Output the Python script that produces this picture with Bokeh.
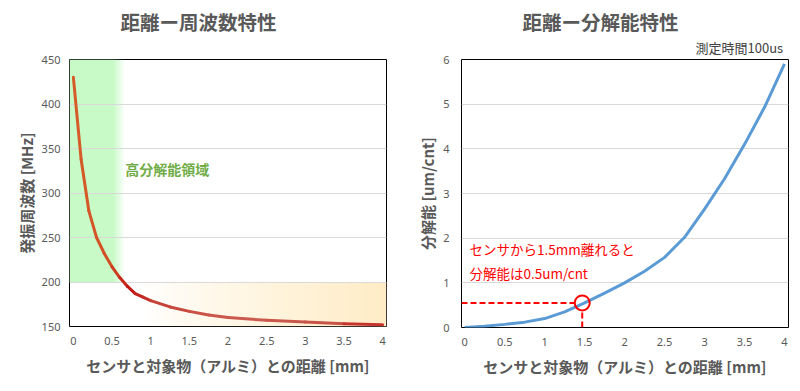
import numpy as np
from bokeh.plotting import figure
from bokeh.layouts import row
from bokeh.models import Range1d, FixedTicker, CustomJSTickFormatter, Label, Title
from bokeh.embed import file_html
from bokeh.resources import INLINE

# ---------------- data ----------------
# left: distance vs oscillation frequency
dist_f = [0, 0.1, 0.2, 0.3, 0.4, 0.5, 0.6, 0.7, 0.8, 0.9, 1.0, 1.25, 1.5, 1.75, 2.0, 2.5, 3.0, 3.5, 4.0]
freq_mhz = [430, 338, 280, 250, 232, 217, 205, 195, 187, 183, 179, 172, 167, 163, 160, 157, 155, 153, 152]

# right: distance vs resolution
dist_r = [0, 0.25, 0.5, 0.75, 1.0, 1.25, 1.5, 1.75, 2.0, 2.25, 2.5, 2.75, 3.0, 3.25, 3.5, 3.75, 4.0]
res_um = [0.0, 0.03, 0.07, 0.12, 0.2, 0.35, 0.55, 0.77, 1.0, 1.26, 1.57, 2.02, 2.65, 3.33, 4.1, 4.93, 5.9]

x_ticks = [0, 0.5, 1, 1.5, 2, 2.5, 3, 3.5, 4]
freq_ticks = [150, 200, 250, 300, 350, 400, 450]
res_ticks = [0, 1, 2, 3, 4, 5, 6]

# highlighted point on the resolution curve
marker_x = [1.47]
marker_y = [0.55]

JP = "Noto Sans CJK JP"
GRAY = "#595959"
XLABEL = "センサと対象物（アルミ）との距離 [mm]"

# ---------------- helpers ----------------
def make_fig(x0, x1, y0, y1, fw, fh, bl, br, bt, bb, yticks, ylabel, ytick_standoff, ylabel_standoff):
    p = figure(frame_width=fw, frame_height=fh, x_range=Range1d(x0, x1), y_range=Range1d(y0, y1),
               output_backend="svg", toolbar_location=None, title=None,
               min_border_left=bl, min_border_right=br, min_border_top=bt, min_border_bottom=bb)
    p.background_fill_color = "white"
    p.border_fill_color = "white"
    p.outline_line_color = "black"
    p.outline_line_width = 1
    p.xgrid.visible = False
    p.ygrid.grid_line_color = "#D9D9D9"
    p.ygrid.grid_line_width = 1
    p.xaxis.ticker = FixedTicker(ticks=x_ticks)
    p.yaxis.ticker = FixedTicker(ticks=yticks)
    p.xaxis.formatter = CustomJSTickFormatter(code="return String(tick)")
    p.yaxis.formatter = CustomJSTickFormatter(code="return String(tick)")
    for ax in (p.xaxis, p.yaxis):
        ax.axis_line_color = None
        ax.major_tick_line_color = None
        ax.minor_tick_line_color = None
        ax.major_label_text_font = "Noto Sans"
        ax.major_label_text_font_size = "11px"
        ax.major_label_text_color = GRAY
        ax.axis_label_text_font = JP
        ax.axis_label_text_font_size = "15px"
        ax.axis_label_text_font_style = "bold"
        ax.axis_label_text_color = GRAY
    p.xaxis.major_label_standoff = 4
    p.xaxis.axis_label_standoff = 7
    p.yaxis.major_label_standoff = ytick_standoff
    p.yaxis.axis_label_standoff = ylabel_standoff
    p.xaxis.axis_label = XLABEL
    p.yaxis.axis_label = ylabel
    return p


def add_titles(p, main, main_offset, sub, sub_offset):
    # subtitle (or blank spacer) sits closest to the frame, main title above it
    p.add_layout(Title(text=sub, text_font=JP, text_font_size="13px", text_color="#404040",
                       text_font_style="normal", align="left", offset=sub_offset,
                       vertical_align="middle", standoff=3), "above")
    p.add_layout(Title(text=main, text_font=JP, text_font_size="19.5px", text_color=GRAY,
                       text_font_style="bold", align="left", offset=main_offset, standoff=0), "above")


def rgba_strip(xs, alpha, rgb):
    nx = len(xs)
    img = np.zeros((1, nx), dtype=np.uint32)
    v = img.view(dtype=np.uint8).reshape((1, nx, 4))
    v[..., 0] = rgb[0]
    v[..., 1] = rgb[1]
    v[..., 2] = rgb[2]
    v[..., 3] = (np.clip(alpha, 0, 1) * 255).astype(np.uint8)
    return img


def lerp_color(x, stops):
    xs = [s[0] for s in stops]
    out = [int(round(np.interp(x, xs, [s[1][c] for s in stops]))) for c in range(3)]
    return "#%02x%02x%02x" % tuple(out)

# ---------------- left chart ----------------
XL0, XL1 = -0.05, 4.05
p1 = make_fig(XL0, XL1, 150, 450, 317, 267, 69, 14, 59, 60, freq_ticks, "発振周波数 [MHz]", 3, 2)
add_titles(p1, "距離ー周波数特性", 51, " ", 0)

# green high-resolution zone (gradient)
gx = np.linspace(XL0, 0.70, 240)
p1.image_rgba(image=[rgba_strip(gx, (0.66 - gx) / 0.15, (200, 250, 200))],
              x=XL0, y=200, dw=0.70 - XL0, dh=250, level="image")
# pale cream zone (gradient)
ox = np.linspace(0.5, XL1, 400)
oa = np.clip((ox - 0.9) / (XL1 - 0.9), 0, 1) ** 0.8
p1.image_rgba(image=[rgba_strip(ox, oa, (255, 236, 198))],
              x=0.5, y=150, dw=XL1 - 0.5, dh=50, level="image")

stops = [(0.0, (214, 92, 40)), (0.45, (210, 80, 38)), (0.75, (192, 22, 22)),
         (1.1, (198, 66, 55)), (2.0, (204, 92, 80)), (3.4, (200, 82, 70)), (4.0, (195, 30, 30))]
mids = [(a + b) / 2 for a, b in zip(dist_f[:-1], dist_f[1:])]
seg_colors = [lerp_color(m, stops) for m in mids]
p1.segment(x0=dist_f[:-1], y0=freq_mhz[:-1], x1=dist_f[1:], y1=freq_mhz[1:],
           line_color=seg_colors, line_width=3, line_cap="round")

p1.add_layout(Label(x=0.67, y=327, text="高分解能領域", text_font=JP, text_font_size="14px",
                    text_font_style="bold", text_color="#70AD47", text_baseline="middle"))

# ---------------- right chart ----------------
XR0, XR1 = -0.04, 4.05
p2 = make_fig(XR0, XR1, 0, 6, 327, 268, 61, 4, 58, 60, res_ticks, "分解能 [um/cnt]", 6, 2)
add_titles(p2, "距離ー分解能特性", 61, "測定時間100us", 234)

p2.line(dist_r, res_um, line_color="#5B9BD5", line_width=3)

rx = 7.5 * (XR1 - XR0) / 327
ry = 7.5 * 6 / 268
p2.segment(x0=[XR0], y0=marker_y, x1=[marker_x[0] - rx], y1=marker_y,
           line_color="#FF0000", line_width=2, line_dash="6 3")
p2.segment(x0=marker_x, y0=[0], x1=marker_x, y1=[marker_y[0] - ry],
           line_color="#FF0000", line_width=2, line_dash="6 3")
p2.scatter(x=marker_x, y=marker_y, marker="circle", size=15, fill_color=None,
           line_color="#FF0000", line_width=2)

for yy, txt in ((1.75, "センサから1.5mm離れると"), (1.21, "分解能は0.5um/cnt")):
    p2.add_layout(Label(x=0.06, y=yy, text=txt, text_font=JP, text_font_size="13.5px",
                        text_color="#FF0000", text_baseline="middle"))

layout = row(p1, p2)
open("out.html", "w").write(file_html(layout, INLINE))
